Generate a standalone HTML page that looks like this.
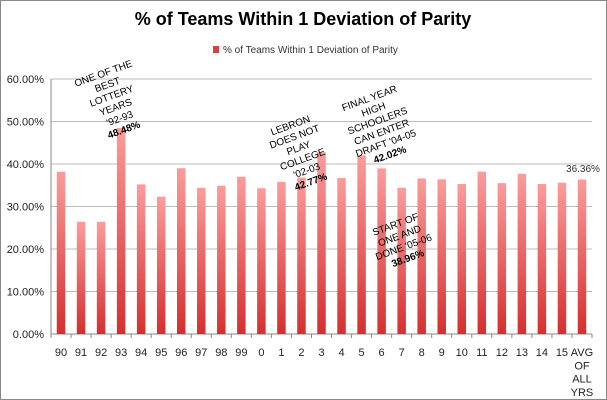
<!DOCTYPE html>
<html><head><meta charset="utf-8"><style>
body{margin:0;background:#fff;font-family:"Liberation Sans",sans-serif}
svg{display:block}
</style></head><body>
<svg width="607" height="400" xmlns="http://www.w3.org/2000/svg" id="chart">
<defs><linearGradient id="g" x1="0" y1="0" x2="0" y2="1"><stop offset="0" stop-color="#fb9c9c"/><stop offset="1" stop-color="#d52f2f"/></linearGradient></defs>
<rect x="0.5" y="0.5" width="606" height="399" fill="#fff" stroke="#888"/>
<text x="303" y="25" text-anchor="middle" font-size="18" font-weight="bold" fill="#000">% of Teams Within 1 Deviation of Parity</text>
<g><rect x="213" y="46" width="6" height="7" fill="#d9403f"/><text x="223" y="53" font-size="10" fill="#333">% of Teams Within 1 Deviation of Parity</text></g>
<g id="grid"></g><g id="bars"></g><g id="xl"></g>
<g font-size="10" fill="#000" font-family="Liberation Sans,sans-serif">
<g transform="rotate(-20 113 100)" text-anchor="middle">
<text x="113" y="75">ONE OF THE</text><text x="113" y="87">BEST</text><text x="113" y="99">LOTTERY</text><text x="113" y="111">YEARS</text><text x="113" y="123">'92-93</text><text x="113" y="135" font-weight="bold">48.48%</text></g>
<g transform="rotate(-20 300 152)" text-anchor="middle">
<text x="300" y="127">LEBRON</text><text x="300" y="139">DOES NOT</text><text x="300" y="151">PLAY</text><text x="300" y="163">COLLEGE</text><text x="300" y="175">'02-03</text><text x="300" y="187" font-weight="bold">42.77%</text></g>
<g transform="rotate(-20 378 122)" text-anchor="middle">
<text x="378" y="100">FINAL YEAR</text><text x="378" y="112">HIGH</text><text x="378" y="124">SCHOOLERS</text><text x="378" y="136">CAN ENTER</text><text x="378" y="148">DRAFT '04-05</text><text x="378" y="160" font-weight="bold">42.02%</text></g>
<g transform="rotate(-20 400 237)" text-anchor="middle">
<text x="400" y="227">START OF</text><text x="400" y="239">ONE AND</text><text x="400" y="251">DONE '05-06</text><text x="400" y="263" font-weight="bold">38.96%</text></g>
<text x="583" y="172" text-anchor="middle" fill="#333">36.36%</text>
</g>
</svg>
<script>
const categories=["90","91","92","93","94","95","96","97","98","99","0","1","2","3","4","5","6","7","8","9","10","11","12","13","14","15","AVG OF ALL YRS"];
const values=[38.2,26.4,26.4,48.48,35.2,32.3,39.0,34.4,34.9,37.0,34.3,35.8,36.8,42.77,36.7,42.02,38.96,34.4,36.6,36.4,35.3,38.2,35.5,37.7,35.3,35.6,36.36];
const yTicks=[0,10,20,30,40,50,60];
const NS="http://www.w3.org/2000/svg";
const x0=51,x1=592,y0=334,yTop=79;
const n=categories.length, step=(x1-x0)/n;
function y(v){return y0-(v/60)*(y0-yTop);}
function xc(i){return x0+step*(i+0.5);}
const grid=document.getElementById('grid'),bars=document.getElementById('bars'),xl=document.getElementById('xl');
function mk(t,a,p){const e=document.createElementNS(NS,t);for(const k in a)e.setAttribute(k,a[k]);p.appendChild(e);return e;}
yTicks.forEach(t=>{
 const l=mk('line',{x1:x0,x2:x1,y1:y(t),y2:y(t),stroke:t===0?'#888':'#bbb','stroke-width':1},grid);
 
 
 const tx=mk('text',{x:44,y:y(t)+4,'text-anchor':'end','font-size':11,fill:'#222'},grid);
 tx.textContent=t.toFixed(2)+'%';
 
 
});
const ax=mk('line',{x1:x0,x2:x0,y1:yTop,y2:y0,stroke:'#888'},grid);


for(let i=0;i<=n;i++){mk('line',{x1:x0+step*i,x2:x0+step*i,y1:y0,y2:y0+4,stroke:'#888'},grid);}
categories.forEach((c,i)=>{
 const bw=8.5;
 const r=mk('rect',{x:xc(i)-bw/2,y:y(values[i]),width:bw,height:y0-y(values[i]),fill:'url(#g)'},bars);
 
 
 const words=c.split(' ');
 const t=mk('text',{'text-anchor':'middle','font-size':11,fill:'#222'},xl);
 
 
 words.forEach((w,j)=>{const s=mk('tspan',{x:xc(i),y:356+j*13.3},t);s.textContent=w;});
});
</script>
</body></html>
